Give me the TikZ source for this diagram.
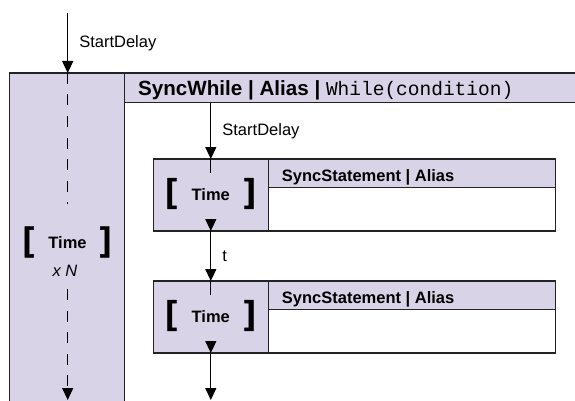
\documentclass[tikz,border=0pt]{standalone}
\usepackage{fontspec}
\setmainfont{Liberation Sans}
\setmonofont{Liberation Mono}
\newfontface\brkfont{Liberation Sans Bold}[RawFeature={embolden=1.6}]
\usetikzlibrary{arrows.meta,positioning}
\definecolor{lav}{RGB}{217,211,232}
\definecolor{edge}{RGB}{35,35,35}

\begin{document}
\begin{tikzpicture}[
  x=1pt, y=-1pt,
  font=\fontsize{16.5}{19}\selectfont,
  node distance=50pt and 0pt,
  frame/.style={draw=edge, line width=1.2pt, inner sep=0pt, outer sep=0pt},
  timebox/.style={frame, fill=lav, minimum width=115pt, minimum height=72pt, font=\fontsize{16.5}{19}\selectfont\bfseries},
  stmtbox/.style={frame, fill=white, minimum width=287.4pt, minimum height=72pt},
  stmthead/.style={frame, fill=lav, anchor=north west, minimum width=287.4pt, minimum height=28.7pt},
  headtext/.style={anchor=base west, inner sep=0pt, font=\fontsize{16.5}{19}\selectfont\bfseries},
  brk/.style={inner sep=0pt, font=\fontsize{33}{36}\brkfont},
  lbl/.style={right, inner sep=0pt, xshift=11pt},
  arr/.style={-{Triangle[length=12pt, width=11pt]}, line width=1.2pt, draw=black},
  dashline/.style={line width=1.2pt, dash pattern=on 11pt off 10.5pt}
]
\useasboundingbox (0,0) rectangle (575,401);
\clip (0,0) rectangle (575,401);

% loop column and while header
\node[frame, fill=lav, anchor=north west, minimum width=115pt, minimum height=360pt] (loop) at (9.3,73) {};
\node[frame, fill=lav, anchor=north west, minimum width=470pt, minimum height=29.7pt] (whilehead) at (loop.north east) {};
\node[headtext, font=\fontsize{20.6}{23}\selectfont\bfseries] (whiletext) at (138,95.8)
  {SyncWhile | Alias | \texttt{\mdseries\fontsize{19.5}{22}\selectfont While(condition)}};

\node[font=\fontsize{16.5}{19}\selectfont\bfseries, inner sep=0pt] (ltime) at (67.5,243) {Time};
\node[brk] (lbrk) at (28.5,242) {[};
\node[brk] (rbrk) at (105.5,242) {]};
\node[inner sep=0pt, font=\fontsize{16.5}{19}\selectfont\itshape] (times) at (65,270.5) {x N};

\coordinate (top) at (67.7,13);
\coordinate (dashend) at (67.7,204);
\coordinate (dashstart) at (67.7,289);
\coordinate (loopout) at (67.7,400);

% statements
\node[timebox] (time1) at (210.8,195) {Time};
\node[stmtbox, right=of time1] (stmt1) {};
\node[stmthead] (stmt1head) at (stmt1.north west) {};
\node[headtext] (stmt1text) at ([shift={(13.4,22.3)}]stmt1head.north west) {SyncStatement | Alias};
\node[brk] (lbrk1) at ([shift={(-39.5,-1.5)}]time1.center) {[};
\node[brk] (rbrk1) at ([shift={(38.8,-1.5)}]time1.center) {]};

\node[timebox, below=of time1] (time2) {Time};
\node[stmtbox, right=of time2] (stmt2) {};
\node[stmthead] (stmt2head) at (stmt2.north west) {};
\node[headtext] (stmt2text) at ([shift={(13.4,22.3)}]stmt2head.north west) {SyncStatement | Alias};
\node[brk] (lbrk2) at ([shift={(-39.5,-1.5)}]time2.center) {[};
\node[brk] (rbrk2) at ([shift={(38.8,-1.5)}]time2.center) {]};
\coordinate (out) at (time2.south |- loopout);

% connectors
\draw[arr] (top) -- node[lbl]{StartDelay} (top |- loop.north);
\draw[dashline] (top |- loop.north) -- (dashend);
\draw[dashline, arr] (dashstart) -- (loopout);

\draw[arr] (time1 |- whilehead.south) -- node[lbl]{StartDelay} (time1.north);
\draw[line width=1.2pt] (time1.north) -- ++(0,14);
\draw[arr] (time1.south) ++(0,-12) -- (time1.south);
\draw[arr] (time1.south) -- node[lbl]{t} (time2.north);
\draw[line width=1.2pt] (time2.north) -- ++(0,14);
\draw[arr] (time2.south) ++(0,-12) -- (time2.south);
\draw[arr] (time2.south) -- (out);
\end{tikzpicture}
\end{document}
